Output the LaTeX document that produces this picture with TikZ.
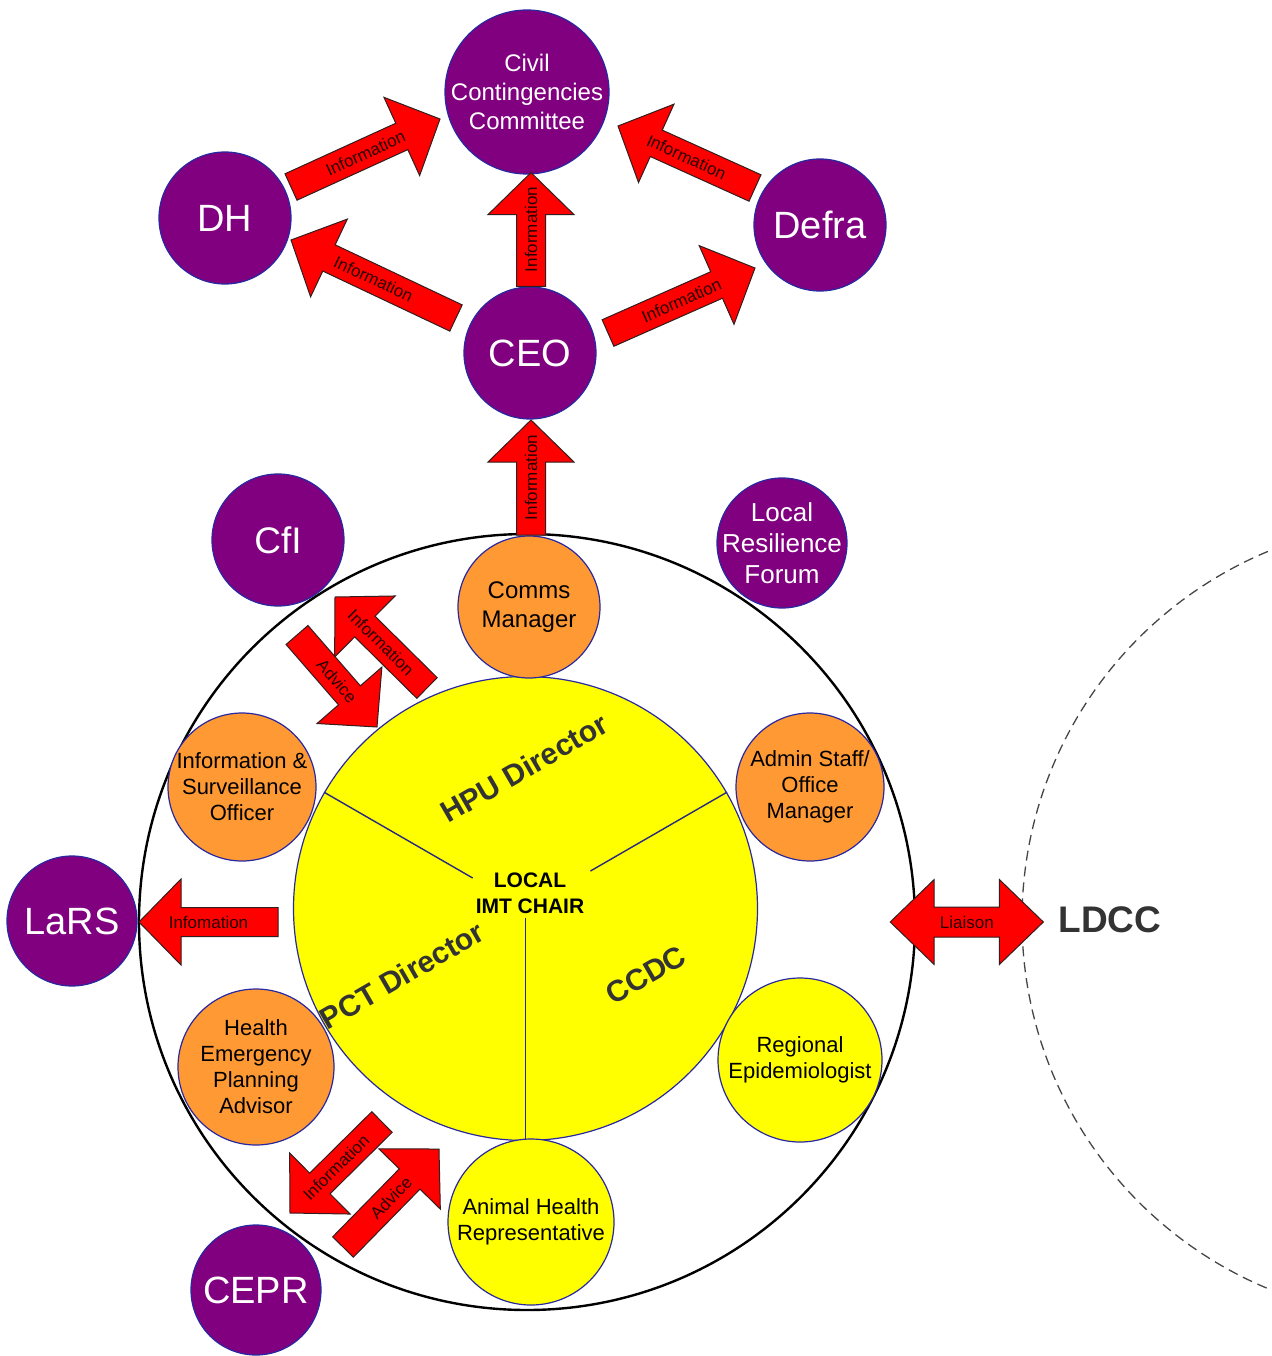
\documentclass[tikz,border=0pt]{standalone}
\usepackage{fontspec}
\setmainfont{Liberation Sans}
\usetikzlibrary{calc}
\definecolor{purp}{RGB}{128,0,128}
\definecolor{orng}{RGB}{255,153,51}
\definecolor{yell}{RGB}{255,255,0}
\definecolor{rim}{RGB}{40,40,160}
\definecolor{arrred}{RGB}{255,0,0}
\definecolor{dgray}{RGB}{51,51,51}
\definecolor{divblue}{RGB}{40,40,130}
\definecolor{labcol}{RGB}{40,0,0}
\tikzset{
  basecirc/.style={circle, inner sep=-30pt, draw=rim, line width=1.2pt, align=center},
  purpnode/.style={basecirc, fill=purp, text=white},
  purpbig/.style={purpnode, font=\fontsize{38}{44}\selectfont},
  orangenode/.style={basecirc, fill=orng, text=black, font=\fontsize{22}{26}\selectfont},
  yellownode/.style={basecirc, fill=yell, text=black, font=\fontsize{22}{26}\selectfont},
  outerstyle/.style={circle, inner sep=0pt, draw=black, line width=2.4pt, minimum size=776pt},
  imtstyle/.style={circle, inner sep=0pt, draw=rim, line width=1.2pt, fill=yell, minimum size=464pt},
  ldccstyle/.style={circle, inner sep=0pt, draw={rgb,255:red,70;green,70;blue,70}, line width=1.3pt, dash pattern=on 10pt off 6pt, minimum size=798pt},
  divline/.style={draw=divblue, line width=1.4pt},
  sectorfont/.style={text=dgray, font=\fontsize{30}{34}\selectfont\bfseries},
  chairfont/.style={text=black, align=center, font=\fontsize{21}{26}\selectfont\bfseries},
  blockarr/.style={fill=arrred, draw={rgb,255:red,50;green,30;blue,30}, line width=1pt, line join=miter},
  arrlabel/.style={text=labcol, font=\fontsize{17}{20}\selectfont, inner sep=0pt},
}
% #1 label position, #2 start, #3 end (tip), #4 label
\newcommand\blockarrow[4][0.5]{%
  \draw[blockarr] ($(#2)!14.5pt!90:(#3)$) -- ($(#3)!42pt!(#2)!14.5pt!-90:(#2)$)
    -- ($(#3)!42pt!(#2)!43pt!-90:(#2)$) -- (#3) -- ($(#3)!42pt!(#2)!43pt!90:(#2)$)
    -- ($(#3)!42pt!(#2)!14.5pt!90:(#2)$) -- ($(#2)!14.5pt!-90:(#3)$) -- cycle;
  \path (#2) -- (#3) node[pos=#1, sloped, arrlabel] {#4};
}
% double-headed: #1 tip A, #2 tip B, #3 label
\newcommand\dblockarrow[3]{%
  \draw[blockarr] (#1) -- ($(#1)!44pt!(#2)!42.5pt!90:(#2)$) -- ($(#1)!44pt!(#2)!15pt!90:(#2)$)
    -- ($(#2)!44pt!(#1)!15pt!-90:(#1)$) -- ($(#2)!44pt!(#1)!42.5pt!-90:(#1)$) -- (#2)
    -- ($(#2)!44pt!(#1)!42.5pt!90:(#1)$) -- ($(#2)!44pt!(#1)!15pt!90:(#1)$)
    -- ($(#1)!44pt!(#2)!15pt!-90:(#2)$) -- ($(#1)!44pt!(#2)!42.5pt!-90:(#2)$) -- cycle;
  \path (#1) -- (#2) node[midway, arrlabel] {#3};
}
\begin{document}
\begin{tikzpicture}[x=1pt,y=-1pt]
\useasboundingbox (0,0) rectangle (1271,1356);
\fill[white] (0,0) rectangle (1271,1356);
% LDCC dashed circle
\begin{scope}
  \clip (0,0) rectangle (1271,1356);
  \node[ldccstyle] (ldcc) at (1421,920) {};
\end{scope}
\node[text=dgray, font=\fontsize{37}{42}\selectfont\bfseries] (ldcclabel) at (1110,920) {LDCC};

% big circle and central IMT circle
\node[outerstyle] (outer) at (527,922) {};
\node[imtstyle] (imt) at (525.5,908.5) {};
\draw[divline] ($(imt.center)!61pt!(imt.150)$) -- (imt.150);
\draw[divline] ($(imt.center)!75pt!(imt.30)$) -- (imt.30);
\draw[divline] ($(imt.center)!9pt!(imt.270)$) -- (imt.270);
\node[rotate=30, sectorfont] (hpu) at (524,768) {HPU Director};
\node[rotate=30, sectorfont] (pct) at (402,975) {PCT Director};
\node[rotate=30, sectorfont] (ccdc) at (646,975) {CCDC};
\node[chairfont] (chair) at (530,893) {LOCAL\\IMT CHAIR};

% purple nodes
\node[purpnode, minimum size=164pt, font=\fontsize{24}{29}\selectfont] (ccc) at (527,92) {Civil\\Contingencies\\Committee};
\node[purpbig, minimum size=132pt] (dh) at (225,218) {DH};
\node[purpbig, minimum size=132pt] (defra) at (820,225) {Defra};
\node[purpbig, minimum size=132pt] (ceo) at (530,353) {CEO};
\node[purpnode, minimum size=132pt, font=\fontsize{37}{42}\selectfont] (cfi) at (278,540) {CfI};
\node[purpnode, minimum size=130pt, font=\fontsize{26}{31}\selectfont] (lrf) at (782,543) {Local\\Resilience\\Forum};
\node[purpbig, minimum size=130pt] (lars) at (72,921) {LaRS};
\node[purpbig, minimum size=130pt] (cepr) at (256,1290) {CEPR};

% orange nodes
\node[orangenode, minimum size=142pt, font=\fontsize{24}{29}\selectfont] (comms) at (529,607) {Comms\\Manager};
\node[orangenode, minimum size=148pt] (iso) at (242,787) {Information \&\\Surveillance\\Officer};
\node[orangenode, minimum size=148pt] (admin) at (810,787) {Admin Staff/\\Office\\Manager};
\node[orangenode, minimum size=156pt] (hepa) at (256,1067) {Health\\Emergency\\Planning\\Advisor};

% yellow nodes
\node[yellownode, minimum size=164pt] (repi) at (800,1060) {Regional\\Epidemiologist};
\node[yellownode, minimum size=166pt] (ahr) at (531,1222) {Animal Health\\Representative};

% arrow end points
\coordinate (a1s) at ($(dh.center)+(66,-31)$);
\coordinate (a1e) at ($(ccc.center)+(-87,27)$);
\coordinate (a2s) at ($(ceo.center)+(-74,-35)$);
\coordinate (a2e) at ($(dh.center)+(66,22)$);
\coordinate (a3s) at ($(ceo.north)+(1,0)$);
\coordinate (a3e) at ($(ccc.south)+(4,-2)$);
\coordinate (a4s) at ($(ceo.center)+(78,-20)$);
\coordinate (a4e) at ($(defra.center)+(-65,43)$);
\coordinate (a5s) at ($(defra.center)+(-65,-37)$);
\coordinate (a5e) at ($(ccc.center)+(91,34)$);
\coordinate (a6s) at ($(comms.center)+(2,-72)$);
\coordinate (a6e) at ($(ceo.center)+(1,67)$);
\coordinate (a7s) at ($(imt.center)+(-98.5,-220.5)$);
\coordinate (a7e) at ($(cfi.center)+(57,57)$);
\coordinate (a8s) at ($(cfi.center)+(19,95)$);
\coordinate (a8e) at ($(imt.center)+(-148.5,-181.5)$);
\coordinate (a9s) at ($(imt.center)+(-247.5,13.5)$);
\coordinate (a9e) at ($(lars.center)+(67,1)$);
\coordinate (a10s) at ($(imt.center)+(-143.5,213.5)$);
\coordinate (a10e) at ($(cepr.center)+(34,-77)$);
\coordinate (a11s) at ($(cepr.center)+(87,-43)$);
\coordinate (a11e) at ($(imt.center)+(-86.5,240.5)$);
\coordinate (a12a) at ($(outer.east)+(-26,0)$);
\coordinate (a12b) at ($(ldcc.west)+(22,2)$);

\blockarrow{a1s}{a1e}{Information}
\blockarrow{a2s}{a2e}{Information}
\blockarrow{a3s}{a3e}{Information}
\blockarrow{a4s}{a4e}{Information}
\blockarrow{a5s}{a5e}{Information}
\blockarrow{a6s}{a6e}{Information}
\blockarrow{a7s}{a7e}{Information}
\blockarrow{a8s}{a8e}{Advice}
\blockarrow{a9s}{a9e}{Infomation}
\blockarrow{a10s}{a10e}{Information}
\blockarrow{a11s}{a11e}{Advice}
\dblockarrow{a12a}{a12b}{Liaison}
\end{tikzpicture}
\end{document}
